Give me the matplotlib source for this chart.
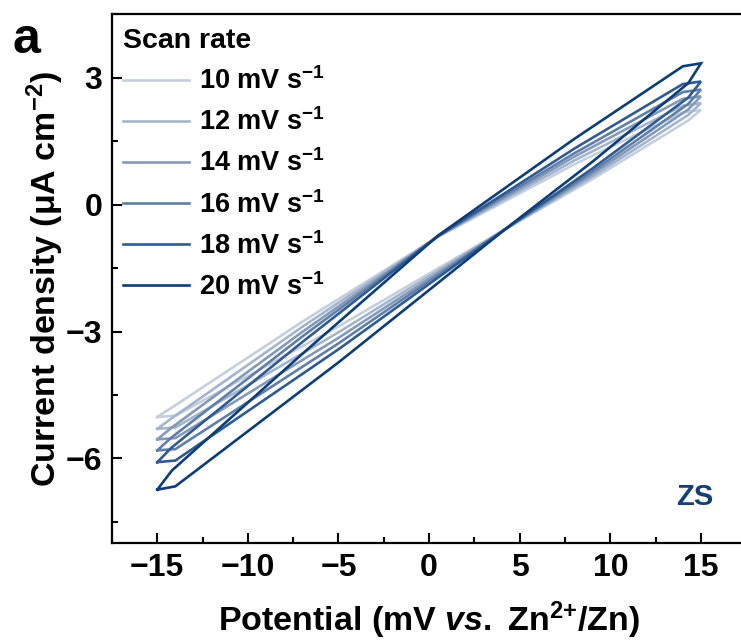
import matplotlib
matplotlib.use("Agg")
import matplotlib.pyplot as plt
from matplotlib.ticker import MultipleLocator

plt.rcParams["font.family"] = ["Liberation Sans", "DejaVu Sans"]
plt.rcParams["font.weight"] = "bold"
plt.rcParams["mathtext.fontset"] = "custom"
plt.rcParams["mathtext.rm"] = "Liberation Sans:bold"
plt.rcParams["mathtext.bf"] = "Liberation Sans:bold"
plt.rcParams["mathtext.it"] = "Liberation Sans:italic:bold"
plt.rcParams["mathtext.default"] = "rm"

# ── data ─────────────────────────────────────────────────────────────────────
scan_rates = [10, 12, 14, 16, 18, 20]  # mV s-1

# forward sweep (upper branch), potential in mV
x_fwd = [-15, -14.2, -7, 0.5, 8, 14]
# reverse sweep (lower branch)
x_rev = [15, 14.3, 9, 4.5, -5, -14]

fwd_10 = [-5.02, -4.80, -2.77, -0.76, 0.95, 2.18]
fwd_12 = [-5.30, -5.05, -2.89, -0.75, 1.04, 2.34]
fwd_14 = [-5.55, -5.27, -3.01, -0.75, 1.13, 2.50]
fwd_16 = [-5.81, -5.50, -3.12, -0.74, 1.21, 2.66]
fwd_18 = [-6.09, -5.74, -3.25, -0.74, 1.32, 2.85]
fwd_20 = [-6.74, -6.29, -3.53, -0.73, 1.55, 3.27]

rev_10 = [2.24, 1.99, 0.60, -0.51, -2.88, -4.99]
rev_12 = [2.40, 2.12, 0.66, -0.50, -3.02, -5.27]
rev_14 = [2.56, 2.25, 0.72, -0.50, -3.15, -5.52]
rev_16 = [2.72, 2.38, 0.78, -0.49, -3.28, -5.78]
rev_18 = [2.91, 2.53, 0.85, -0.49, -3.42, -6.05]
rev_20 = [3.34, 2.87, 1.01, -0.48, -3.73, -6.66]

fwd_all = [fwd_10, fwd_12, fwd_14, fwd_16, fwd_18, fwd_20]
rev_all = [rev_10, rev_12, rev_14, rev_16, rev_18, rev_20]

colors = ["#c4cfdd", "#a3b5cc", "#8399b9", "#5f7fa8", "#2f5a92", "#0d3d78"]

x_ticks = [-15, -10, -5, 0, 5, 10, 15]
y_ticks = [-6, -3, 0, 3]

# ── plot ─────────────────────────────────────────────────────────────────────
fig = plt.figure(figsize=(7.41, 6.42), dpi=100)
ax = fig.add_axes([0.1511, 0.1542, 0.856, 0.8236])

for rate, fwd, rev, col in zip(scan_rates, fwd_all, rev_all, colors):
    xs = x_fwd + x_rev + [x_fwd[0]]
    ys = fwd + rev + [fwd[0]]
    ax.plot(xs, ys, color=col, linewidth=1.9, solid_joinstyle="miter",
            label=f"{rate} mV s$^{{-1}}$")

ax.set_xlim(-17.5, 17.5)
ax.set_ylim(-8, 4.5)
ax.set_xticks(x_ticks)
ax.set_yticks(y_ticks)
ax.xaxis.set_minor_locator(MultipleLocator(2.5))
ax.yaxis.set_minor_locator(MultipleLocator(1.5))
ax.tick_params(which="major", direction="in", length=7, width=1.5,
               labelsize=23, pad=7)
ax.tick_params(which="minor", direction="in", length=4, width=1.5)
for sp in ax.spines.values():
    sp.set_linewidth(1.6)

ax.set_xlabel("Potential (mV $\\mathit{vs.}$ Zn$^{2{+}}$/Zn)", fontsize=24.5,
              fontweight="bold", labelpad=12)
ax.set_ylabel("Current density (μA cm$^{-2}$)", fontsize=24.5,
              fontweight="bold", labelpad=0)

leg = ax.legend(loc="upper left", bbox_to_anchor=(0.0, 0.994), frameon=False,
                title="Scan rate", fontsize=19.5, title_fontsize=20.5,
                handlelength=2.45, handletextpad=0.37, labelspacing=0.49,
                borderaxespad=0.0, borderpad=0.4, alignment="left")
leg.get_title().set_fontweight("bold")

ax.text(0.9475, 0.087, "ZS", transform=ax.transAxes, fontsize=21,
        fontweight="bold", color="#123f7a", ha="right", va="center")
fig.text(0.017, 0.938, "a", fontsize=36, fontweight="bold", va="center")

fig.savefig("out.png", dpi=100)
